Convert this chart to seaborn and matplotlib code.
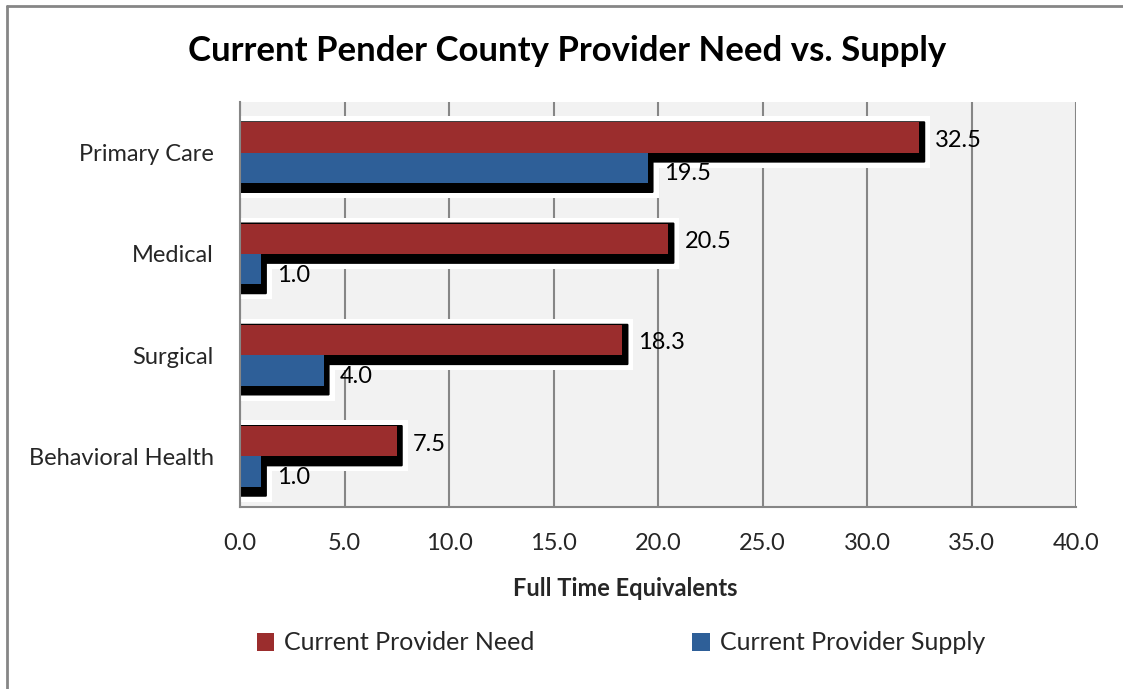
import matplotlib
matplotlib.use("Agg")
import matplotlib.pyplot as plt
from matplotlib.patches import FancyBboxPatch, Patch
from matplotlib.lines import Line2D
import seaborn as sns
import pandas as pd

categories = ["Primary Care", "Medical", "Surgical", "Behavioral Health"]
need = [32.5, 20.5, 18.3, 7.5]
supply = [19.5, 1.0, 4.0, 1.0]
series_names = ["Current Provider Need", "Current Provider Supply"]
colors = ["#9b2d2d", "#2e5f98"]
x_ticks = [0, 5, 10, 15, 20, 25, 30, 35, 40]

sns.set_theme(style="white")
plt.rcParams["font.family"] = ["Lato", "DejaVu Sans"]

df = pd.DataFrame({
    "category": categories * 2,
    "value": need + supply,
    "series": [series_names[0]] * 4 + [series_names[1]] * 4,
})

W, H, DPI = 1123, 689, 100
fig = plt.figure(figsize=(W / DPI, H / DPI), dpi=DPI)
ax_l, ax_r, ax_t, ax_b = 240, 1076, 102, 507
ax = fig.add_axes([ax_l / W, 1 - ax_b / H, (ax_r - ax_l) / W, (ax_b - ax_t) / H])

sns.barplot(data=df, y="category", x="value", hue="series", order=categories,
            hue_order=series_names, palette=colors, orient="h", width=0.6,
            saturation=1, ax=ax, legend=False, errorbar=None, zorder=5)

ax.set_xlim(0, 40)
ax.set_ylim(3.5, -0.5)
ax.set_facecolor("#f2f2f2")

# pixel -> data conversions for the fixed axes geometry
px_x = 40 / (ax_r - ax_l)
px_y = 4 / (ax_b - ax_t)

bars = list(ax.patches)
for p in bars:
    p.set_edgecolor("none")
    p.set_linewidth(0)
    x0, y0 = p.get_x(), p.get_y()
    w, h = p.get_width(), p.get_height()
    # drop shadow extents around each bar
    sx0 = x0 - 3 * px_x
    sx1 = x0 + w + 6 * px_x
    sy0 = y0 - 1 * px_y
    sy1 = y0 + h + 10 * px_y
    glow = FancyBboxPatch((sx0 - 5 * px_x, sy0 - 5 * px_y),
                          (sx1 - sx0) + 10 * px_x, (sy1 - sy0) + 10 * px_y,
                          boxstyle="square,pad=0", facecolor="white",
                          edgecolor="none", zorder=3)
    ax.add_patch(glow)
    shadow = FancyBboxPatch((sx0, sy0), sx1 - sx0, sy1 - sy0,
                            boxstyle="round,pad=0,rounding_size=0.06",
                            mutation_aspect=px_y / px_x,
                            facecolor="black", edgecolor="none", zorder=4)
    ax.add_patch(shadow)

# value labels
for i, p in enumerate(bars):
    val = p.get_width()
    dy = 3 if i < len(categories) else 6
    ax.text(val + 16 * px_x, p.get_y() + p.get_height() / 2 + dy * px_y,
            f"{val:.1f}", va="center", ha="left", fontsize=17,
            color="black", zorder=8)

ax.set_xticks(x_ticks)
ax.set_xticklabels([f"{t:.1f}" for t in x_ticks], fontsize=17)
ax.set_yticks(range(len(categories)))
ax.set_yticklabels(categories, fontsize=17)
ax.set_yticks([-0.5, 0.5, 1.5, 2.5, 3.5], minor=True)
ax.tick_params(axis="y", which="major", length=0, pad=19)
ax.tick_params(axis="y", which="minor", length=7, width=1.5, color="#868686", direction="out")
ax.tick_params(axis="x", which="major", length=7, width=1.5, color="#868686",
               direction="out", pad=12)
ax.grid(axis="x", color="#868686", linewidth=1.5, zorder=0)
ax.set_axisbelow(True)
for s in ["top", "right"]:
    ax.spines[s].set_visible(False)
for s in ["left", "bottom"]:
    ax.spines[s].set_color("#868686")
    ax.spines[s].set_linewidth(1.5)
    ax.spines[s].set_zorder(6)
ax.set_ylabel("")
ax.set_xlabel("Full Time Equivalents", fontsize=17, fontweight="bold")
ax.xaxis.set_label_coords((625 - ax_l) / (ax_r - ax_l), -(588 - ax_b) / (ax_b - ax_t))
ax.xaxis.label.set_va("center")

fig.text(567 / W, 1 - 51 / H, "Current Pender County Provider Need vs. Supply",
         ha="center", va="center", fontsize=25, fontweight="bold", color="black")

handles = [Patch(facecolor=c, edgecolor="none") for c in colors]
fig.legend(handles, series_names, loc="center", bbox_to_anchor=(621 / W, 1 - 643 / H),
           ncol=2, frameon=False, fontsize=18, columnspacing=6.3,
           handlelength=0.7, handleheight=0.7, handletextpad=0.4)

# chart frame
fig.add_artist(Line2D([7 / W, 7 / W], [0, 1 - 6 / H], color="#868686", lw=2,
                      transform=fig.transFigure))
fig.add_artist(Line2D([7 / W, 1], [1 - 6 / H, 1 - 6 / H], color="#868686", lw=2,
                      transform=fig.transFigure))

fig.savefig("out.png", dpi=DPI)
